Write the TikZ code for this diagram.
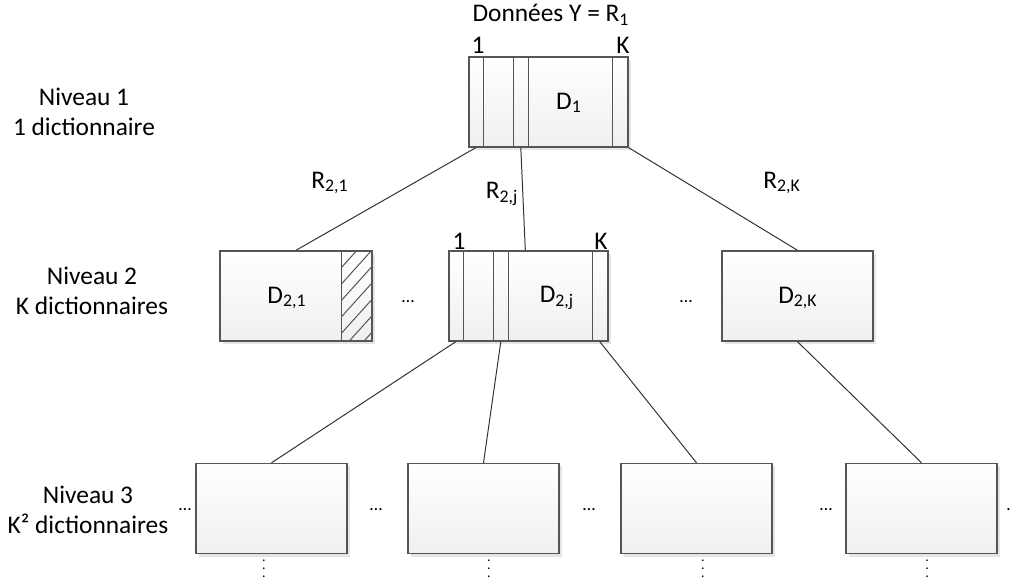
\documentclass[tikz,border=0pt]{standalone}
\usepackage{fontspec}
\setmainfont{Carlito}
\usetikzlibrary{positioning,calc,shadows,patterns.meta}
\definecolor{boxline}{HTML}{555555}
\definecolor{linkgray}{HTML}{333333}

\begin{document}
\begin{tikzpicture}[x=0.5pt, y=-0.5pt,
    font=\fontsize{12.7}{15}\selectfont,
    dict/.style={rectangle, draw=boxline, line width=0.7pt, top color=white, bottom color=gray!12, minimum width=75.5pt, minimum height=45pt, inner sep=0pt, drop shadow={shadow xshift=1.5pt, shadow yshift=-1.5pt, fill=gray!40, opacity=0.5}},
    wide/.style={dict, minimum width=79.5pt},
    strip/.style={draw=boxline, line width=0.7pt},
    link/.style={draw=linkgray, line width=0.5pt},
    lvl/.style={align=center, inner sep=0pt}
]
    \useasboundingbox (0,0) rectangle (1010,581);

    % Level labels
    \node[lvl] (lvl1) at (84,112) {Niveau 1\\1 dictionnaire};
    \node[lvl] (lvl2) at (92,291) {Niveau 2\\K dictionnaires};
    \node[lvl] (lvl3) at (88,510) {Niveau 3\\K² dictionnaires};

    % Dictionaries
    \node[wide] (d1) at (548.5,102) {};
    \node[dict, minimum width=76pt] (d21) at (296,296) {};
    \node[wide] (d2j) at (528.5,296) {};
    \node[dict] (d2K) at (797.5,296) {};
    \node[dict] (l3a) at (271.5,508.5) {};
    \node[dict] (l3b) at (483.5,508.5) {};
    \node[dict] (l3c) at (696.5,508.5) {};
    \node[dict] (l3d) at (921.5,508.5) {};

    % Atoms in the wide boxes
    \foreach \wbox in {d1,d2j}
        \foreach \dx in {15,45,60,144}
            \draw[strip] ($(\wbox.north west)+(\dx,0)$) -- ($(\wbox.south west)+(\dx,0)$);
    \fill[pattern={Lines[angle=48, distance=5.5pt, line width=0.5pt]}, pattern color=boxline]
        ($(d21.north east)+(-31,0)$) rectangle (d21.south east);
    \draw[strip] ($(d21.north east)+(-31,0)$) -- ($(d21.south east)+(-31,0)$);

    % Texts
    \node (data) at (551,15) {Données Y = R\textsubscript{1}};
    \node (d1one) at (478,45) {1};
    \node (d1K) at (623,45) {K};
    \node (d2jone) at (459,241) {1};
    \node (d2jK) at (601,241) {K};
    \node (d1lab) at (569,103) {D\textsubscript{1}};
    \node (d21lab) at (287,298) {D\textsubscript{2,1}};
    \node (d2jlab) at (557,298) {D\textsubscript{2,j}};
    \node (d2Klab) at (798,298) {D\textsubscript{2,K}};
    \node (r21) at (330,183) {R\textsubscript{2,1}};
    \node (r2j) at (502,194) {R\textsubscript{2,j}};
    \node (r2K) at (782,183) {R\textsubscript{2,K}};

    % Dots
    \foreach \x/\y in {408/302, 686/302, 185/510, 376/510, 589/510, 826/510, 1013/510}
        \node[inner sep=0pt, font=\small] at (\x,\y) {…};
    \foreach \x in {264,489,703,927}
        \node[inner sep=0pt, font=\scriptsize] at (\x,563) {$\vdots$};

    % Connection points
    \coordinate (d1a) at ($(d1.south west)+(7.5,0)$);
    \coordinate (d1b) at ($(d1.south west)+(52.5,0)$);
    \coordinate (d2ja) at ($(d2j.south west)+(7.5,0)$);
    \coordinate (d2jb) at ($(d2j.south west)+(52.5,0)$);
    \coordinate (d2jc) at ($(d2j.south west)+(151.5,0)$);
    \coordinate (d2jin) at ($(d2j.north west)+(77,0)$);

    % Links
    \draw[link] (d1a) -- (d21.north);
    \draw[link] (d1b) -- (d2jin);
    \draw[link] (d1.south east) -- (d2K.north);
    \draw[link] (d2ja) -- (l3a.north);
    \draw[link] (d2jb) -- (l3b.north);
    \draw[link] (d2jc) -- (l3c.north);
    \draw[link] (d2K.south) -- (l3d.north);
\end{tikzpicture}
\end{document}
